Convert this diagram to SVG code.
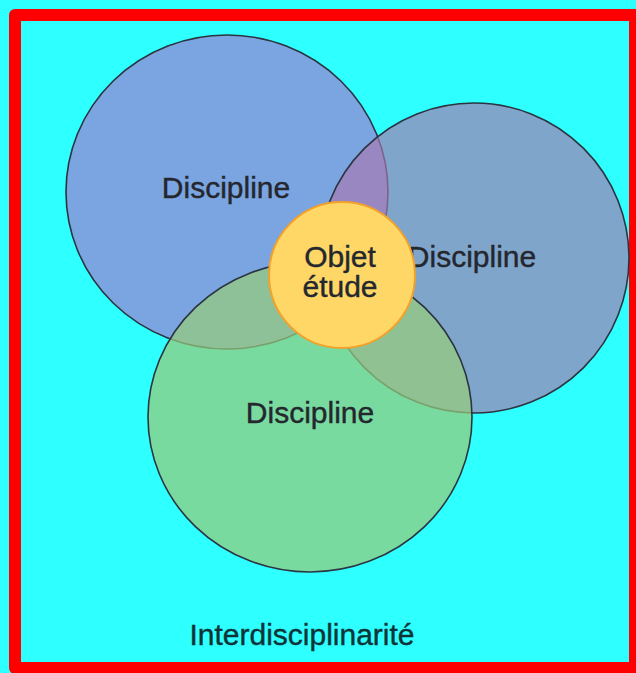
<svg xmlns="http://www.w3.org/2000/svg" width="636" height="673" viewBox="0 0 636 673">
  <style>
    .disc { stroke: #2b3440; stroke-width: 1.6; }
    .lbl { font-family: "Liberation Sans", Arial, Helvetica, sans-serif; font-size: 30px; fill: #24272e; stroke: #24272e; stroke-width: 0.4; text-anchor: middle; }
    .caption { font-family: "Liberation Sans", Arial, Helvetica, sans-serif; font-size: 30px; fill: #0f3437; stroke: #0f3437; stroke-width: 0.4; text-anchor: middle; }
  </style>

  <!-- background and frame -->
  <rect x="0" y="0" width="636" height="673" fill="#2effff"/>
  <rect x="15" y="15" width="620" height="653" fill="none" stroke="#ff0000" stroke-width="12" stroke-linejoin="round"/>

  <!-- discipline circles -->
  <g id="discipline-1">
    <ellipse class="disc" cx="227" cy="192" rx="161" ry="157" fill="#7ba5e0"/>
    <text class="lbl" x="226" y="198">Discipline</text>
  </g>
  <g id="discipline-2">
    <ellipse class="disc" cx="474" cy="258" rx="155" ry="155" fill="rgb(167,121,178)" fill-opacity="0.67"/>
    <text class="lbl" x="472" y="267">Discipline</text>
  </g>
  <g id="discipline-3">
    <ellipse class="disc" cx="310" cy="417" rx="162" ry="155" fill="rgb(151,204,123)" fill-opacity="0.72"/>
    <text class="lbl" x="310" y="423">Discipline</text>
  </g>

  <!-- shared object of study -->
  <g id="objet-etude">
    <circle cx="342" cy="275" r="73" fill="#ffd766" stroke="#f3a12a" stroke-width="2"/>
    <text class="lbl" x="340" y="267">Objet</text>
    <text class="lbl" x="340" y="297">étude</text>
  </g>

  <g id="caption">
    <text class="caption" x="302" y="645">Interdisciplinarité</text>
  </g>

  <g id="connectors"/>
</svg>
